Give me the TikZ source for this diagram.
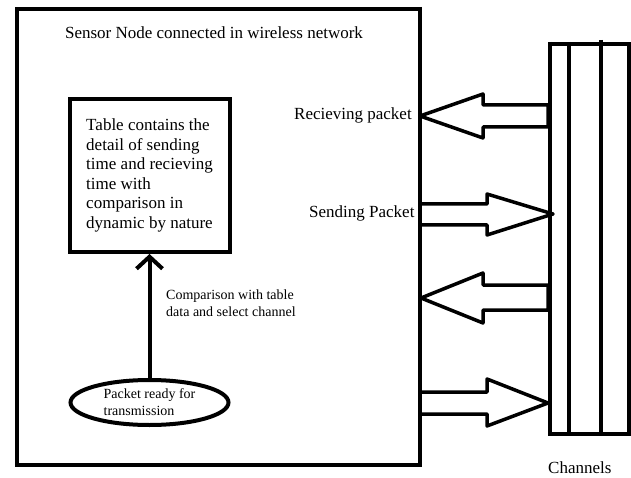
\documentclass[tikz,border=0pt]{standalone}
\usepackage{fontspec}
\setmainfont{Liberation Serif}
\usetikzlibrary{arrows.meta,shapes.geometric}
\begin{document}
\begin{tikzpicture}[x=1pt,y=-1pt,
  thickbox/.style={draw=black, line width=4pt, rectangle, inner sep=0pt},
  bigtext/.style={font=\fontsize{17}{19.6}\selectfont},
  smalltext/.style={font=\fontsize{14}{17}\selectfont},
  label/.style={inner sep=0pt},
  blockarrow/.style={draw=black, fill=white, line width=3.5pt, line join=round},
  flow/.style={line width=4pt, -{Straight Barb[length=12pt,width=26pt,line width=4pt]}},
  chanline/.style={line width=4pt}
]
\useasboundingbox (0,0) rectangle (631,478);

% main sensor node box
\node[thickbox, minimum width=403pt, minimum height=456pt] (sensor) at (218.5,237) {};
\node[bigtext, label, anchor=base] (title) at (214,39) {Sensor Node connected in wireless network};

% table box
\node[thickbox, bigtext, minimum width=160pt, minimum height=153pt, align=left] (table) at (149.5,175.5)
  {Table contains the\\detail of sending\\time and recieving\\time with\\comparison in\\dynamic by nature};

% packet ellipse
\node[draw=black, ellipse, line width=4pt, minimum width=158pt, minimum height=45pt, inner sep=0pt, smalltext, align=left] (packet) at (149.5,402.5)
  {Packet ready for\\transmission};

\draw[flow] (packet.north) -- (table.south);
\node[smalltext, label, align=left, anchor=west] (cmp) at (166,303) {Comparison with table\\data and select channel};

% channels
\node[thickbox, minimum width=79pt, minimum height=390pt] (channels) at (589.5,239) {};
\draw[chanline] (568.5,42) -- (568.5,434);
\draw[chanline] (600.5,40) -- (600.5,434);
\node[bigtext, label, anchor=base west] (chlabel) at (548,473.5) {Channels};

% labels
\node[bigtext, label, anchor=base west] (recv) at (294,120) {Recieving packet};
\node[bigtext, label, anchor=base west] (send) at (309,218) {Sending Packet};

% block arrows
\draw[blockarrow] (548,105) -- (483,105) -- (483,94) -- (420,116) -- (483,138) -- (483,127) -- (548,127) -- cycle;
\draw[blockarrow] (420,204) -- (487,204) -- (487,194) -- (553,214) -- (487,235) -- (487,225) -- (420,225) -- cycle;
\draw[blockarrow] (548,285) -- (483,285) -- (483,273) -- (421,298) -- (483,323) -- (483,310) -- (548,310) -- cycle;
\draw[blockarrow] (420,392) -- (487,392) -- (487,379) -- (548,403) -- (487,426) -- (487,414) -- (420,414) -- cycle;
% redraw box edges over arrow tails
\draw[line width=4pt] (sensor.north east) ++(-2,0) -- ([xshift=-2pt]sensor.south east);
\draw[line width=4pt] ([xshift=2pt]channels.north west) -- ([xshift=2pt]channels.south west);
\end{tikzpicture}
\end{document}
